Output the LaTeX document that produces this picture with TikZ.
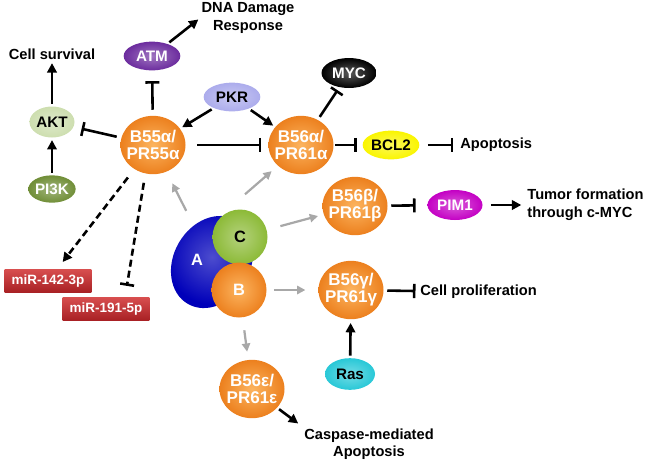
\documentclass[tikz,border=0pt]{standalone}
\usepackage{fontspec}
\setmainfont{Liberation Sans}
\usetikzlibrary{shapes.geometric,arrows.meta}

\definecolor{orangeL}{RGB}{252,180,95}
\definecolor{orangeD}{RGB}{236,128,30}
\definecolor{aktgreen}{RGB}{205,222,175}
\definecolor{pigreen}{RGB}{112,142,55}
\definecolor{atmpurple}{RGB}{108,44,158}
\definecolor{pkrblue}{RGB}{172,172,236}
\definecolor{bclyellow}{RGB}{250,245,0}
\definecolor{pimpurple}{RGB}{196,0,196}
\definecolor{rascyan}{RGB}{40,200,215}
\definecolor{cgreen}{RGB}{140,186,55}
\definecolor{ablue}{RGB}{0,0,185}
\definecolor{mirtop}{RGB}{215,78,78}
\definecolor{mirbot}{RGB}{168,32,36}
\definecolor{arrowgray}{RGB}{168,168,168}

\begin{document}
\begin{tikzpicture}[x=0.03cm,y=-0.03cm,
  prot/.style={ellipse,inner sep=-4pt,align=center,font=\bfseries\fontsize{13}{14}\selectfont},
  ball/.style={prot,inner sep=-6pt,minimum width=1.95cm,minimum height=1.75cm,
    inner color=orangeL,outer color=orangeD,text=white,font=\bfseries\fontsize{14.5}{14.5}\selectfont},
  bead/.style 2 args={prot,minimum width=1.7cm,minimum height=0.86cm,
    inner color=#1!65!white,outer color=#1,text=#2},
  lbl/.style={font=\bfseries\fontsize{12.5}{15}\selectfont,align=center,inner sep=1pt},
  mirbox/.style={rectangle,top color=mirtop,bottom color=mirbot,text=white,
    font=\bfseries\fontsize{11.5}{12}\selectfont,minimum width=2.6cm,minimum height=0.68cm,inner sep=0pt},
  act/.style={-{Triangle[length=8pt,width=8pt]},line width=2.2pt,shorten <=2pt,shorten >=2pt},
  inh/.style={-{Bar[width=12pt,line width=2.2pt]},line width=2.2pt,shorten <=3pt,shorten >=6pt},
  grey/.style={-{Triangle[length=7pt,width=7pt]},draw=arrowgray,line width=1.9pt},
  dashline/.style={dash pattern=on 6pt off 3.5pt}]
\useasboundingbox (0,0) rectangle (649,464);

\node[ball] (b55) at (153,145) {B55α/\\PR55α};
\node[ball] (b56a) at (301,145) {B56α/\\PR61α};
\node[ball] (b56b) at (355,206) {B56β/\\PR61β};
\node[ball] (b56g) at (351,290) {B56γ/\\PR61γ};
\node[ball] (b56e) at (252,389) {B56ε/\\PR61ε};

\node[bead={aktgreen}{black},minimum width=1.35cm,minimum height=0.93cm] (akt) at (52,122) {AKT};
\node[bead={pigreen}{white},minimum width=1.42cm,minimum height=0.82cm] (pi3k) at (52,189) {PI3K};
\node[bead={atmpurple}{white}] (atm) at (152,56) {ATM};
\node[bead={pkrblue}{black}] (pkr) at (232,97) {PKR};
\node[bead={black}{white},minimum width=1.65cm,minimum height=0.9cm] (myc) at (349,73) {MYC};
\node[bead={bclyellow}{black}] (bcl2) at (391,145) {BCL2};
\node[bead={pimpurple}{white},minimum width=1.65cm,minimum height=0.9cm] (pim1) at (455,205) {PIM1};
\node[bead={rascyan}{black},minimum width=1.5cm,minimum height=0.95cm] (ras) at (350,374) {Ras};

\node[lbl] (survive) at (52,54) {Cell survival};
\node[lbl] (dna) at (248,18) {DNA Damage\\Response};
\node[lbl,anchor=west] (apop) at (459,145) {Apoptosis};
\node[lbl,anchor=west,align=left] (tumor) at (526,205) {Tumor formation\\through c-MYC};
\node[lbl,anchor=west] (prolif) at (419,292) {Cell proliferation};
\node[lbl] (casp) at (369,444) {Caspase-mediated\\Apoptosis};

\node[mirbox] (mir1) at (48,281) {miR-142-3p};
\node[mirbox] (mir2) at (106,309) {miR-191-5p};

\node[ellipse,minimum width=2.9cm,minimum height=2.3cm,rotate=60,
  inner color=ablue!70!white,outer color=ablue] (A) at (212,262) {};
\node[text=white,font=\bfseries\fontsize{14}{14}\selectfont] (Alab) at (197,260) {A};
\node[bead={cgreen}{black},minimum width=1.65cm,minimum height=1.65cm,
  font=\bfseries\fontsize{14}{14}\selectfont] (C) at (240,237) {C};
\node[ball,minimum width=1.65cm,minimum height=1.65cm,
  font=\bfseries\fontsize{14}{14}\selectfont] (B) at (239,290) {B};

\draw[grey,shorten <=14pt,shorten >=11pt] (A) -- (b55);
\draw[grey,shorten >=7pt] ([shift={(5,-15)}]C.north) -- (b56a.south west);
\draw[grey,shorten <=12pt,shorten >=5pt] (C) -- (b56b);
\draw[grey,shorten <=6pt,shorten >=11pt] (B) -- (b56g);
\draw[grey,shorten <=11pt,shorten >=7pt] (B) -- (b56e);

\draw[act] (akt) -- (survive);
\draw[act] (pi3k) -- (akt);
\draw[inh,shorten <=4pt,shorten >=7pt] (b55) -- (akt);
\draw[inh,shorten <=5pt,shorten >=9pt] (b55) -- (atm);
\draw[act] (atm) -- (dna.west);
\draw[act] (pkr) -- (b55);
\draw[act] (pkr) -- (b56a);
\draw[inh,shorten <=10pt] (b55) -- (b56a);
\draw[inh,shorten >=3pt] (b56a) -- (myc);
\draw[inh,shorten <=1pt,shorten >=5pt] (b56a) -- (bcl2);
\draw[inh,shorten <=7pt,shorten >=5pt] (bcl2) -- (apop);
\draw[inh,shorten >=10pt] (b56b) -- (pim1);
\draw[act,shorten <=7pt,shorten >=4pt] (pim1) -- (tumor);
\draw[inh,shorten >=3pt] (b56g) -- (prolif);
\draw[act,shorten >=3pt] (ras) -- (b56g);
\draw[act,shorten >=5pt] (b56e) -- (casp.north west);
\draw[act,dashline,shorten <=9pt,shorten >=8pt] (b55) -- (mir1);
\draw[inh,dashline,shorten <=8pt,shorten >=10pt] (b55.255) -- ([xshift=0.57cm]mir2.north);
\end{tikzpicture}
\end{document}
